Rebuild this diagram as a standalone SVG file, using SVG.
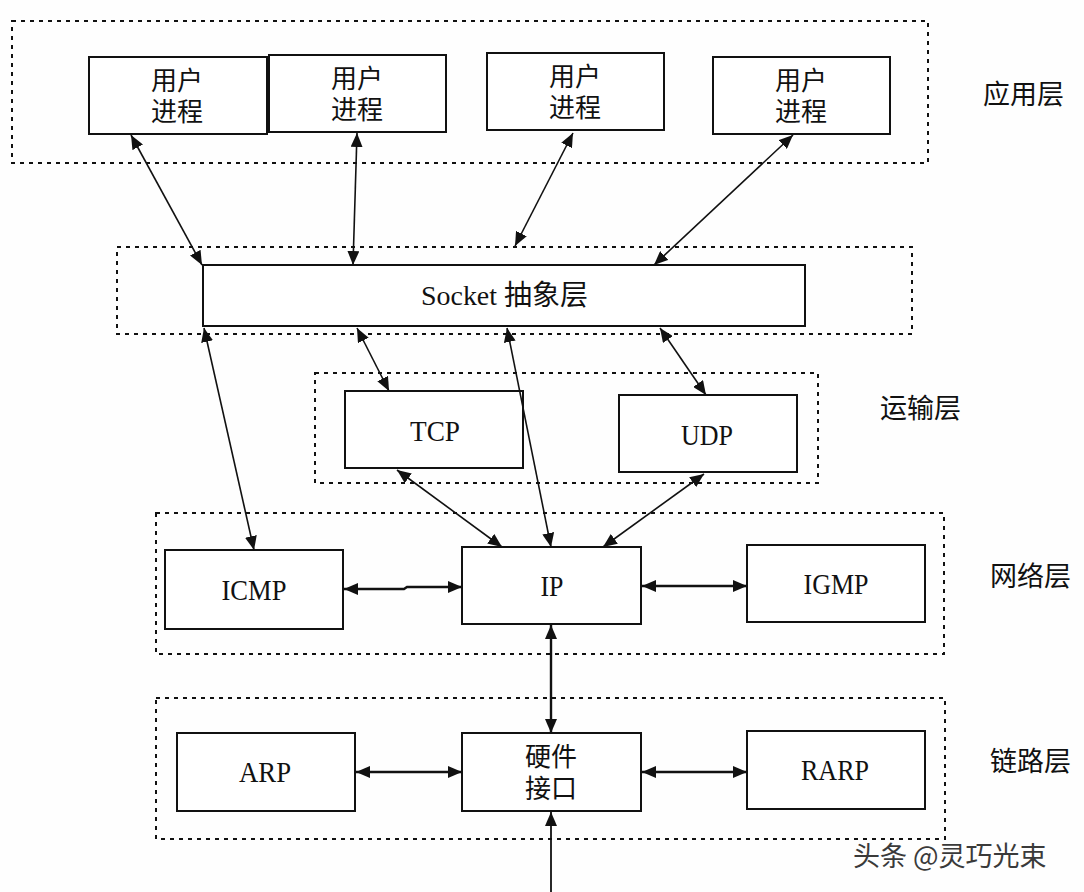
<svg xmlns="http://www.w3.org/2000/svg" width="1084" height="892" viewBox="0 0 1084 892">
<style>
.bg{fill:#fefefe}
.dash{fill:none;stroke:#111;stroke-width:2;stroke-dasharray:4 5}
.box{fill:#fff;stroke:#111;stroke-width:2}
.cn{font-family:"Noto Sans CJK SC","Noto Sans",sans-serif;font-size:26px;fill:#111;text-anchor:middle}
.lat{font-family:"Liberation Serif","DejaVu Serif",serif;font-size:29px;fill:#111;text-anchor:middle}
.lay{font-family:"Noto Sans CJK SC","Noto Sans",sans-serif;font-size:27px;fill:#111}
.ln{fill:none;stroke:#111;stroke-width:1.6;marker-start:url(#ah);marker-end:url(#ah)}
.hz{fill:none;stroke:#111;stroke-width:2.4;marker-start:url(#ah);marker-end:url(#ah)}
.up{fill:none;stroke:#111;stroke-width:1.8;marker-end:url(#ah)}
</style>
<defs>
<marker id="ah" viewBox="0 0 14 12" refX="14" refY="6" markerWidth="14" markerHeight="12" markerUnits="userSpaceOnUse" orient="auto-start-reverse">
<path d="M0,0 L14,6 L0,12 z" fill="#111"/>
</marker>
</defs>
<rect class="bg" x="0" y="0" width="1084" height="892"/>

<g id="layers">
<rect class="dash" x="12" y="21" width="916" height="142"/>
<rect class="dash" x="117" y="247" width="795" height="87"/>
<rect class="dash" x="315" y="373" width="503" height="110"/>
<rect class="dash" x="156" y="513" width="788" height="141"/>
<rect class="dash" x="156" y="698" width="789" height="141"/>
<text class="lay" x="983" y="104">应用层</text>
<text class="lay" x="880" y="418">运输层</text>
<text class="lay" x="990" y="586">网络层</text>
<text class="lay" x="990" y="771">链路层</text>
</g>

<g id="up1"><rect class="box" x="89" y="57" width="178" height="77"/><text class="cn"><tspan x="177" y="90">用户</tspan><tspan x="177" y="121">进程</tspan></text></g>
<g id="up2"><rect class="box" x="269" y="55" width="177" height="77"/><text class="cn"><tspan x="357" y="88">用户</tspan><tspan x="357" y="119">进程</tspan></text></g>
<g id="up3"><rect class="box" x="487" y="53" width="177" height="77"/><text class="cn"><tspan x="575" y="86">用户</tspan><tspan x="575" y="117">进程</tspan></text></g>
<g id="up4"><rect class="box" x="713" y="57" width="177" height="77"/><text class="cn"><tspan x="801" y="90">用户</tspan><tspan x="801" y="121">进程</tspan></text></g>

<g id="socket"><rect class="box" x="203" y="265" width="602" height="61"/><text x="421" y="305" style="font-family:'Liberation Serif',serif;font-size:28px;fill:#111" textLength="76" lengthAdjust="spacingAndGlyphs">Socket</text><text x="504" y="305" style="font-family:'Noto Sans CJK SC',sans-serif;font-size:28px;fill:#111">抽象层</text></g>

<g id="tcp"><rect class="box" x="345" y="391" width="178" height="77"/><text class="lat" x="435" y="441" textLength="50" lengthAdjust="spacingAndGlyphs">TCP</text></g>
<g id="udp"><rect class="box" x="619" y="395" width="178" height="77"/><text class="lat" x="707" y="445" textLength="52" lengthAdjust="spacingAndGlyphs">UDP</text></g>

<g id="icmp"><rect class="box" x="165" y="550" width="178" height="79"/><text class="lat" x="254" y="600" textLength="65" lengthAdjust="spacingAndGlyphs">ICMP</text></g>
<g id="ip"><rect class="box" x="462" y="547" width="179" height="77"/><text class="lat" x="552" y="596" textLength="23" lengthAdjust="spacingAndGlyphs">IP</text></g>
<g id="igmp"><rect class="box" x="747" y="545" width="178" height="77"/><text class="lat" x="836" y="594" textLength="65" lengthAdjust="spacingAndGlyphs">IGMP</text></g>

<g id="arp"><rect class="box" x="177" y="733" width="178" height="78"/><text class="lat" x="265" y="782" textLength="52" lengthAdjust="spacingAndGlyphs">ARP</text></g>
<g id="hw"><rect class="box" x="462" y="733" width="179" height="78"/><text class="cn"><tspan x="551" y="766">硬件</tspan><tspan x="551" y="798">接口</tspan></text></g>
<g id="rarp"><rect class="box" x="747" y="731" width="178" height="78"/><text class="lat" x="835" y="780" textLength="68" lengthAdjust="spacingAndGlyphs">RARP</text></g>

<g id="connectors">
<path class="ln" d="M131,135 L202,265"/>
<path class="ln" d="M357,133 L353,265"/>
<path class="ln" d="M573,133 L515,246"/>
<path class="ln" d="M793,135 L654,265"/>
<path class="ln" d="M204,328 L254,550"/>
<path class="ln" d="M357,328 L389,391"/>
<path class="ln" d="M507,328 L551,547"/>
<path class="ln" d="M660,328 L706,395"/>
<path class="ln" d="M397,470 L502,547"/>
<path class="ln" d="M704,474 L603,547"/>
<path class="hz" d="M344,589 L404,589 L407,587 L462,587"/>
<path class="hz" d="M642,586 L747,586"/>
<path class="hz" d="M551,625 L551,733"/>
<path class="hz" d="M356,772 L462,772"/>
<path class="hz" d="M642,772 L747,772"/>
<path class="up" d="M551,892 L551,812"/>
</g>

<text x="853" y="866" style="font-family:'Noto Sans CJK SC',sans-serif;font-size:27px;fill:#3a3a3a">头条 @灵巧光束</text>
</svg>
